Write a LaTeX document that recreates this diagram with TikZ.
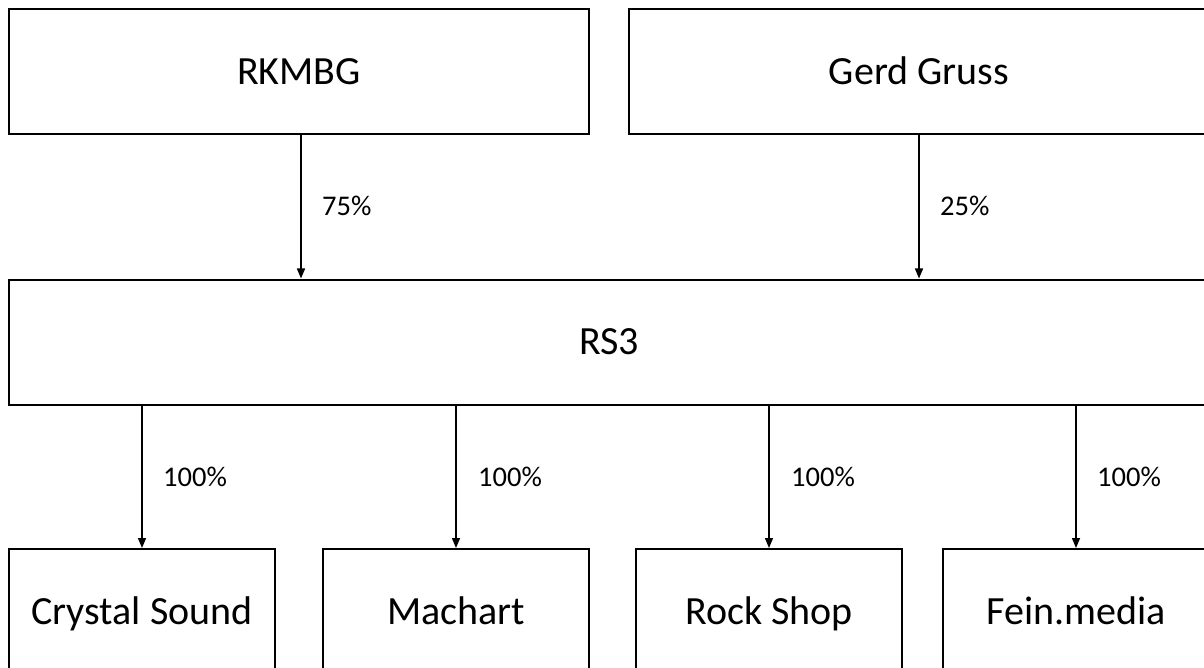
\documentclass[tikz,border=0pt]{standalone}
\usepackage{fontspec}
\setmainfont{Carlito}
\usetikzlibrary{arrows.meta}
\begin{document}
\begin{tikzpicture}[x=1pt,y=1pt,
  box/.style={draw, line width=2pt, minimum height=125pt, inner sep=0pt, text height=25.8pt, text depth=0pt, font=\fontsize{40}{44}\selectfont},
  arr/.style={line width=1.5pt, -{Triangle[length=10pt,width=8pt]}},
  pct/.style={inner sep=0pt, anchor=base west, font=\fontsize{28.5}{32}\selectfont}]
\useasboundingbox (0,0) rectangle (1204,-668);
\clip (0,0) rectangle (1204,-668);
\node[box, minimum width=580pt] (rk) at (299,-71.5) {RKMBG};
\node[box, minimum width=580pt] (gg) at (919,-71.5) {Gerd Gruss};
\node[box, minimum width=1200pt] (rs3) at (609,-342) {RS3};
\node[box, minimum width=266pt] (cs) at (142,-611.5) {Crystal Sound};
\node[box, minimum width=266pt] (ma) at (456,-611.5) {Machart};
\node[box, minimum width=266pt] (rs) at (769,-611.5) {Rock Shop};
\node[box, minimum width=266pt] (fm) at (1076,-611.5) {Fein.media};
\draw[arr] ([xshift=2pt]rk.south) -- ([xshift=2pt]rk.south |- rs3.north);
\draw[arr] (gg.south) -- (gg.south |- rs3.north);
\draw[arr] (cs.north |- rs3.south) -- (cs.north);
\draw[arr] (ma.north |- rs3.south) -- (ma.north);
\draw[arr] (rs.north |- rs3.south) -- (rs.north);
\draw[arr] (fm.north |- rs3.south) -- (fm.north);
\node[pct] (l1) at (322,-216) {75\%};
\node[pct] (l2) at (940,-216) {25\%};
\node[pct] (l3) at (163,-486) {100\%};
\node[pct] (l4) at (478,-486) {100\%};
\node[pct] (l5) at (791,-486) {100\%};
\node[pct] (l6) at (1097,-486) {100\%};
\end{tikzpicture}
\end{document}
